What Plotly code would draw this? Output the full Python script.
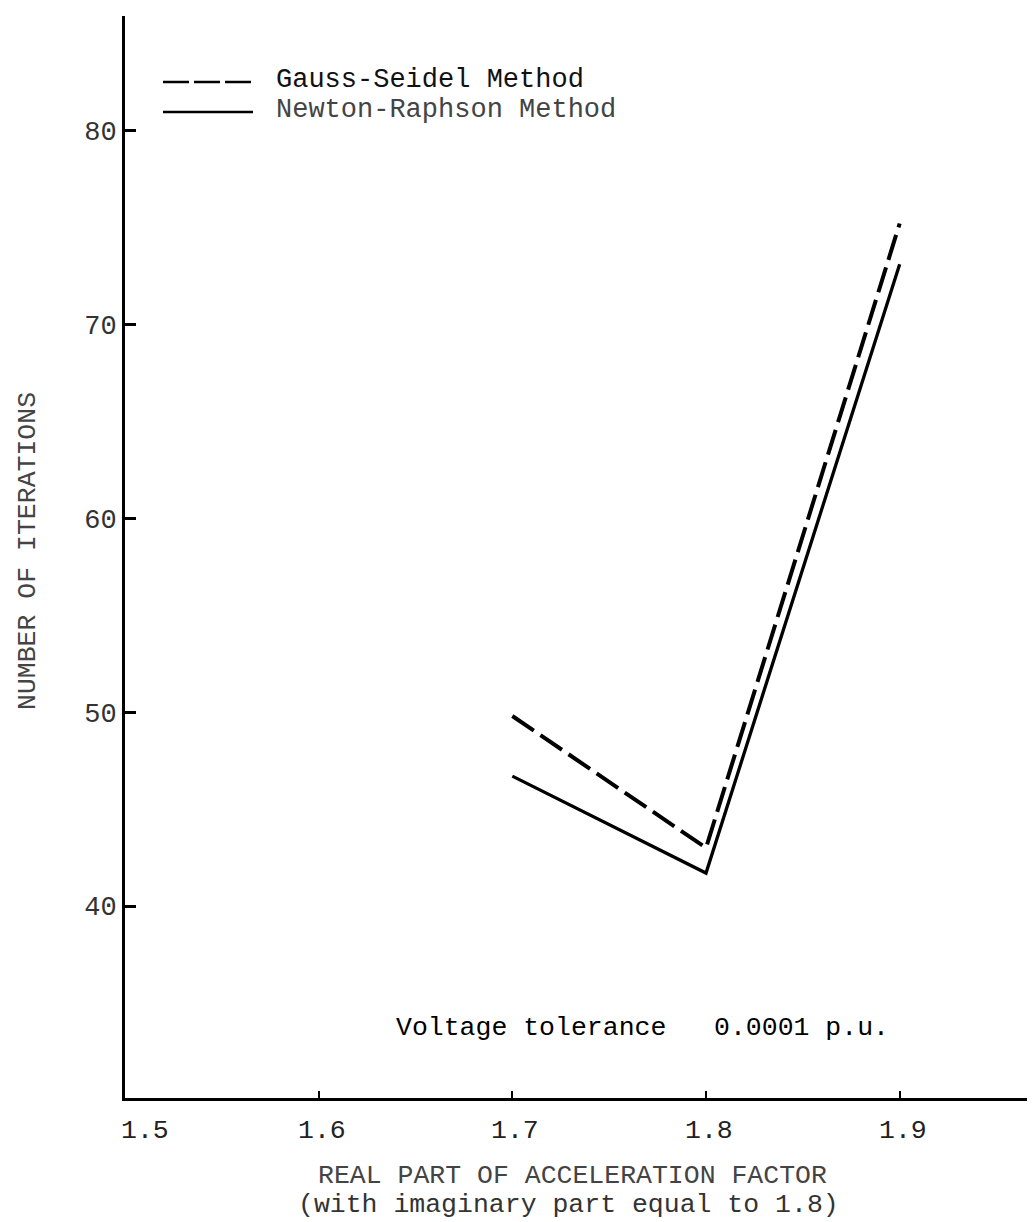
import plotly.graph_objects as go

# ---- data ----
accel_real = [1.7, 1.8, 1.9]
gauss_seidel_iters = [49.8, 43.0, 75.2]
newton_raphson_iters = [46.7, 41.7, 73.1]

x_tick_vals = [1.5, 1.6, 1.7, 1.8, 1.9]
x_tick_text = ["1.5", "1.6", "1.7", "1.8", "1.9"]
y_tick_vals = [40, 50, 60, 70, 80]
y_tick_text = ["40", "50", "60", "70", "80"]

series_names = ["Gauss-Seidel Method", "Newton-Raphson Method"]

FONT = "Liberation Mono, Courier New, monospace"
W, H = 1035, 1222
L, R, T, B = 117, 0, 8, 132
PW, PH = W - L - R, H - T - B

fig = go.Figure()
fig.add_trace(go.Scatter(
    x=accel_real, y=gauss_seidel_iters, mode="lines", name=series_names[0],
    line=dict(color="black", width=4, dash="26px,8px"), showlegend=False))
fig.add_trace(go.Scatter(
    x=accel_real, y=newton_raphson_iters, mode="lines", name=series_names[1],
    line=dict(color="black", width=3.3), showlegend=False))

fig.update_layout(
    width=W, height=H,
    margin=dict(l=L, r=R, t=T, b=B),
    paper_bgcolor="white", plot_bgcolor="white",
    font=dict(family=FONT, color="#222"),
    xaxis=dict(range=[1.5, 1.974], showgrid=False, zeroline=False,
               showline=True, linecolor="black", linewidth=2.5,
               ticks="inside", ticklen=7, tickwidth=2, tickcolor="black",
               tickvals=x_tick_vals, showticklabels=False),
    yaxis=dict(range=[30.1, 85.9], showgrid=False, zeroline=False,
               showline=True, linecolor="black", linewidth=3,
               ticks="inside", ticklen=11, tickwidth=2.5, tickcolor="black",
               tickvals=y_tick_vals, ticktext=y_tick_text,
               tickfont=dict(family=FONT, size=27, color="#333")),
)

def px_to_paper_x(px):
    return (px - L) / PW

def px_to_paper_y(py):
    return (H - B - py) / PH

anns = []
# x tick labels
for i, (v, t) in enumerate(zip(x_tick_vals, x_tick_text)):
    anns.append(dict(x=v, xref="x", y=0, yref="paper", text=t, showarrow=False,
                     xanchor="center", yanchor="middle", yshift=-33,
                     xshift=20 if i == 0 else 3,
                     font=dict(family=FONT, size=26.5, color="#222")))

# axis titles
anns.append(dict(x=px_to_paper_x(564), y=px_to_paper_y(1168), xref="paper", yref="paper",
                 text="REAL PART OF ACCELERATION FACTOR", showarrow=False,
                 xanchor="center", yanchor="middle",
                 font=dict(family=FONT, size=26.5, color="#444")))
anns.append(dict(x=px_to_paper_x(560), y=px_to_paper_y(1197), xref="paper", yref="paper",
                 text="(with imaginary part equal to 1.8)", showarrow=False,
                 xanchor="center", yanchor="middle",
                 font=dict(family=FONT, size=26.5, color="#333")))
anns.append(dict(x=px_to_paper_x(20), y=px_to_paper_y(543), xref="paper", yref="paper",
                 text="NUMBER OF ITERATIONS", showarrow=False, textangle=-90,
                 xanchor="center", yanchor="middle",
                 font=dict(family=FONT, size=26.5, color="#444")))

# note
anns.append(dict(x=px_to_paper_x(634), y=px_to_paper_y(1020), xref="paper", yref="paper",
                 text="Voltage tolerance   0.0001 p.u.", showarrow=False,
                 xanchor="center", yanchor="middle",
                 font=dict(family=FONT, size=26.5, color="black")))

# legend (manual)
legend_rows = [(74, "26px,5px", 2.5, "#111"), (104, None, 2.5, "#444")]
shapes = []
for (yy, dash, lw, col), name in zip(legend_rows, series_names):
    line = dict(color="black", width=lw)
    if dash:
        line["dash"] = dash
    shapes.append(dict(type="line", xref="paper", yref="paper",
                       x0=px_to_paper_x(155), x1=px_to_paper_x(245),
                       y0=px_to_paper_y(yy), y1=px_to_paper_y(yy), line=line))
    anns.append(dict(x=px_to_paper_x(266), y=px_to_paper_y(yy - 2), xref="paper", yref="paper",
                     text=name, showarrow=False, xanchor="left", yanchor="middle",
                     font=dict(family=FONT, size=27, color=col)))

fig.update_layout(annotations=anns, shapes=shapes)
fig.write_html("out.html")
